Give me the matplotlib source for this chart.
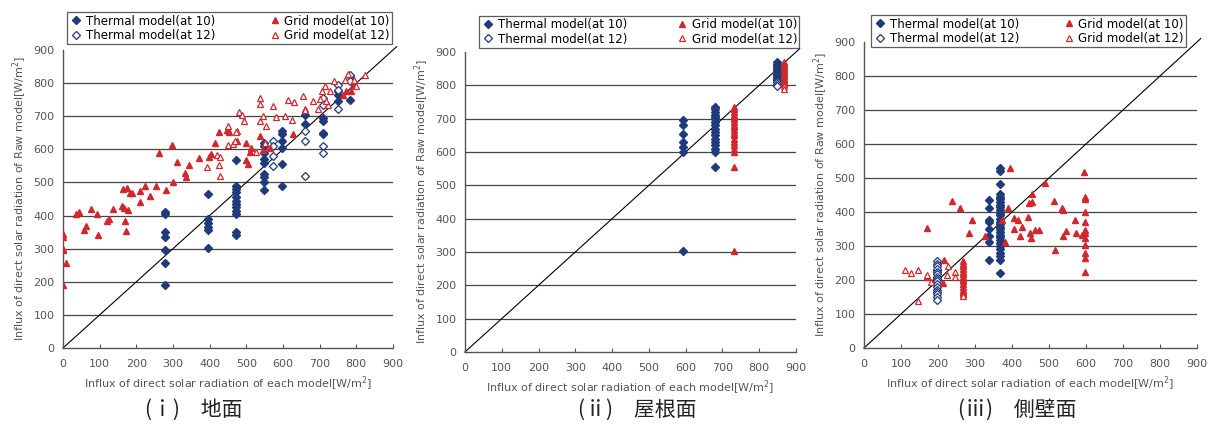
import matplotlib.pyplot as plt

plt.rcParams['font.family'] = ['DejaVu Sans', 'Noto Sans CJK JP']

BLUE = '#1f3b7c'
RED = '#d0282c'
GRAY = '#555555'

# ---------------- (i) 地面 ----------------
g_th10_x = [277]*7 + [395]*6 + [471]*12 + [548]*9 + [598]*6 + [660]*2 + [709]*4 + [750]*3 + [782]*2
g_th10_y = [405, 410, 350, 335, 297, 257, 190,
            465, 390, 377, 365, 355, 302,
            568, 490, 480, 470, 455, 445, 435, 425, 415, 405, 350, 342,
            620, 610, 590, 570, 560, 525, 515, 500, 478,
            655, 645, 625, 605, 555, 490,
            705, 675,
            695, 685, 650, 645,
            775, 765, 745,
            820, 750]
g_th12_x = [573]*4 + [660]*3 + [709]*4 + [750]*3 + [782]*2
g_th12_y = [625, 610, 580, 550,
            655, 625, 520,
            755, 735, 610, 590,
            795, 780, 723,
            825, 805]
g_gr10_x = [0, 9, 0, 0, 0, 0, 36, 44, 75, 93, 96, 56, 64, 120, 125, 136, 161, 165, 169, 171,
            164, 175, 182, 187, 178, 209, 210, 225, 238, 253, 262, 282, 298, 301, 312, 335, 334,
            343, 371, 399, 404, 415, 426, 452, 447, 449, 475, 498, 500, 505, 509, 514, 538, 545,
            564, 627, 764, 773, 786, 791]
g_gr10_y = [190, 257, 335, 345, 295, 300, 405, 410, 420, 405, 342, 357, 368, 385, 390, 420, 430,
            423, 385, 353, 480, 483, 467, 467, 417, 442, 475, 490, 458, 490, 590, 477, 613, 502,
            563, 515, 528, 552, 573, 578, 587, 618, 652, 652, 658, 657, 625, 618, 568, 555, 592,
            605, 640, 597, 605, 645, 765, 775, 775, 795]
g_gr12_x = [393, 425, 429, 420, 429, 450, 450, 464, 475, 480, 487, 469, 473, 494, 527, 536, 545,
            536, 536, 550, 554, 573, 580, 605, 615, 631, 624, 655, 660, 681, 695, 700, 706, 714,
            727, 739, 768, 777, 798, 823, 723, 718, 659, 795]
g_gr12_y = [548, 553, 520, 583, 577, 613, 670, 615, 655, 712, 705, 625, 652, 687, 592, 685, 700,
            755, 737, 620, 670, 732, 697, 700, 748, 743, 690, 760, 723, 747, 723, 753, 775, 790,
            777, 805, 808, 827, 790, 825, 735, 747, 720, 810]

# ---------------- (ii) 屋根面 ----------------
r_th10_x = [594]*7 + [679]*17 + [847]*12
r_th10_y = [695, 680, 655, 630, 615, 600, 303,
            735, 728, 720, 712, 705, 698, 690, 680, 670, 660, 650, 640, 630, 620, 610, 600, 555,
            870, 865, 860, 855, 850, 845, 840, 835, 830, 825, 820, 815]
r_th12_x = [847]*3
r_th12_y = [810, 805, 797]
r_gr10_x = [732]*19 + [868]*12
r_gr10_y = [735, 728, 720, 712, 705, 698, 690, 682, 674, 666, 658, 650, 640, 630, 620, 610, 600,
            555, 303, 870, 864, 858, 852, 846, 840, 834, 828, 822, 816, 810, 804]
r_gr12_x = [868, 868]
r_gr12_y = [797, 790]

# ---------------- (iii) 側壁面 ----------------
s_th10_x = [196]*3 + [338]*8 + [367]*28
s_th10_y = [230, 205, 185,
            435, 411, 377, 372, 349, 328, 313, 259,
            528, 520, 482, 452, 445, 438, 430, 422, 414, 405, 398, 390, 380, 372, 365, 356, 349,
            340, 332, 325, 318, 310, 300, 290, 280, 270, 260, 222]
s_th12_x = [196]*16
s_th12_y = [255, 248, 240, 232, 225, 218, 210, 203, 196, 188, 180, 172, 165, 158, 150, 142]
s_gr10_x = [268]*14 + [169, 238, 259, 291, 283, 216, 214, 171, 327, 395, 372, 381, 390, 405, 405,
                       417, 422, 428, 444, 447, 453, 453, 449, 451, 463, 474, 489, 516, 514, 535,
                       539, 537, 547, 570, 574, 588, 595] + [598]*11
s_gr10_y = [255, 248, 240, 232, 225, 218, 210, 203, 196, 188, 180, 172, 165, 160,
            352, 433, 411, 377, 338, 259, 191, 210, 328, 528, 377, 313, 411, 382, 349, 377, 328,
            357, 386, 425, 453, 428, 338, 323, 347, 347, 484, 289, 433, 411, 406, 328, 343, 377,
            338, 333, 518,
            445, 438, 401, 372, 347, 338, 323, 303, 279, 264, 225]
s_gr12_x = [110, 128, 146, 169, 182, 146, 227, 223, 247, 245, 268]
s_gr12_y = [228, 220, 230, 215, 193, 137, 240, 215, 225, 210, 152]

xlabel = 'Influx of direct solar radiation of each model[W/m$^2$]'
ylabel = 'Influx of direct solar radiation of Raw model[W/m$^2$]'

panels = [
    ((g_th10_x, g_th10_y), (g_th12_x, g_th12_y), (g_gr10_x, g_gr10_y), (g_gr12_x, g_gr12_y),
     '(ｉ)　地面', [0.0519, 0.1869, 0.2718, 0.6963], [0.055, 0.897, 0.268, 0.073], 0.16),
    ((r_th10_x, r_th10_y), (r_th12_x, r_th12_y), (r_gr10_x, r_gr10_y), (r_gr12_x, r_gr12_y),
     '(ⅱ)　屋根面', [0.3830, 0.1776, 0.2727, 0.7009], [0.3945, 0.888, 0.264, 0.075], 0.525),
    ((s_th10_x, s_th10_y), (s_th12_x, s_th12_y), (s_gr10_x, s_gr10_y), (s_gr12_x, s_gr12_y),
     '(ⅲ)　側壁面', [0.7117, 0.1869, 0.2743, 0.7150], [0.7175, 0.890, 0.2595, 0.075], 0.838),
]

fig = plt.figure(figsize=(12.14, 4.28), dpi=100)

for th10, th12, gr10, gr12, caption, pos, legpos, capx in panels:
    ax = fig.add_axes(pos)
    ax.set_xlim(0, 900)
    ax.set_ylim(0, 900)
    for v in range(100, 900, 100):
        ax.axhline(v, color='#444444', lw=0.9, zorder=1)
    # 1:1 line
    ax.plot([0, 910], [0, 910], color='k', lw=0.8, zorder=2, clip_on=False)
    h1, = ax.plot(th10[0], th10[1], 'D', ms=3.6, color=BLUE, mec=BLUE, ls='none', zorder=3,
                  label='Thermal model(at 10)')
    h2, = ax.plot(th12[0], th12[1], 'D', ms=3.6, mfc='white', mec=BLUE, mew=0.9, ls='none',
                  zorder=3, label='Thermal model(at 12)')
    h3, = ax.plot(gr10[0], gr10[1], '^', ms=5, color=RED, mec=RED, ls='none', zorder=3,
                  label='Grid model(at 10)')
    h4, = ax.plot(gr12[0], gr12[1], '^', ms=5, mfc='white', mec=RED, mew=0.9, ls='none',
                  zorder=3, label='Grid model(at 12)')
    ax.set_xticks(range(0, 1000, 100))
    ax.set_yticks(range(0, 1000, 100))
    ax.tick_params(axis='x', direction='in', length=3, labelsize=8, labelcolor=GRAY,
                   color=GRAY, pad=8)
    ax.tick_params(axis='y', length=0, labelsize=8, labelcolor=GRAY, pad=6)
    for s in ['top', 'right']:
        ax.spines[s].set_visible(False)
    for s in ['left', 'bottom']:
        ax.spines[s].set_color(GRAY)
        ax.spines[s].set_linewidth(1.0)
    ax.set_xlabel(xlabel, fontsize=8, color=GRAY, labelpad=4)
    ax.set_ylabel(ylabel, fontsize=8, color=GRAY, labelpad=3)
    ax.set_facecolor('white')

    leg = fig.legend(handles=[h1, h2, h3, h4], loc='lower left', ncol=2,
                     bbox_to_anchor=legpos, mode='expand', fontsize=8.5,
                     frameon=True, fancybox=False, borderpad=0.2, labelspacing=0.1,
                     handletextpad=0.2, handlelength=1.2, columnspacing=1.0,
                     borderaxespad=0)
    leg.get_frame().set_edgecolor('#333333')
    leg.get_frame().set_linewidth(0.9)

    fig.text(capx, 0.042, caption, ha='center', va='center', fontsize=15,
             family=['Noto Sans CJK JP', 'DejaVu Sans'], color='#222222')

fig.savefig('out.png', dpi=100, facecolor='white')
